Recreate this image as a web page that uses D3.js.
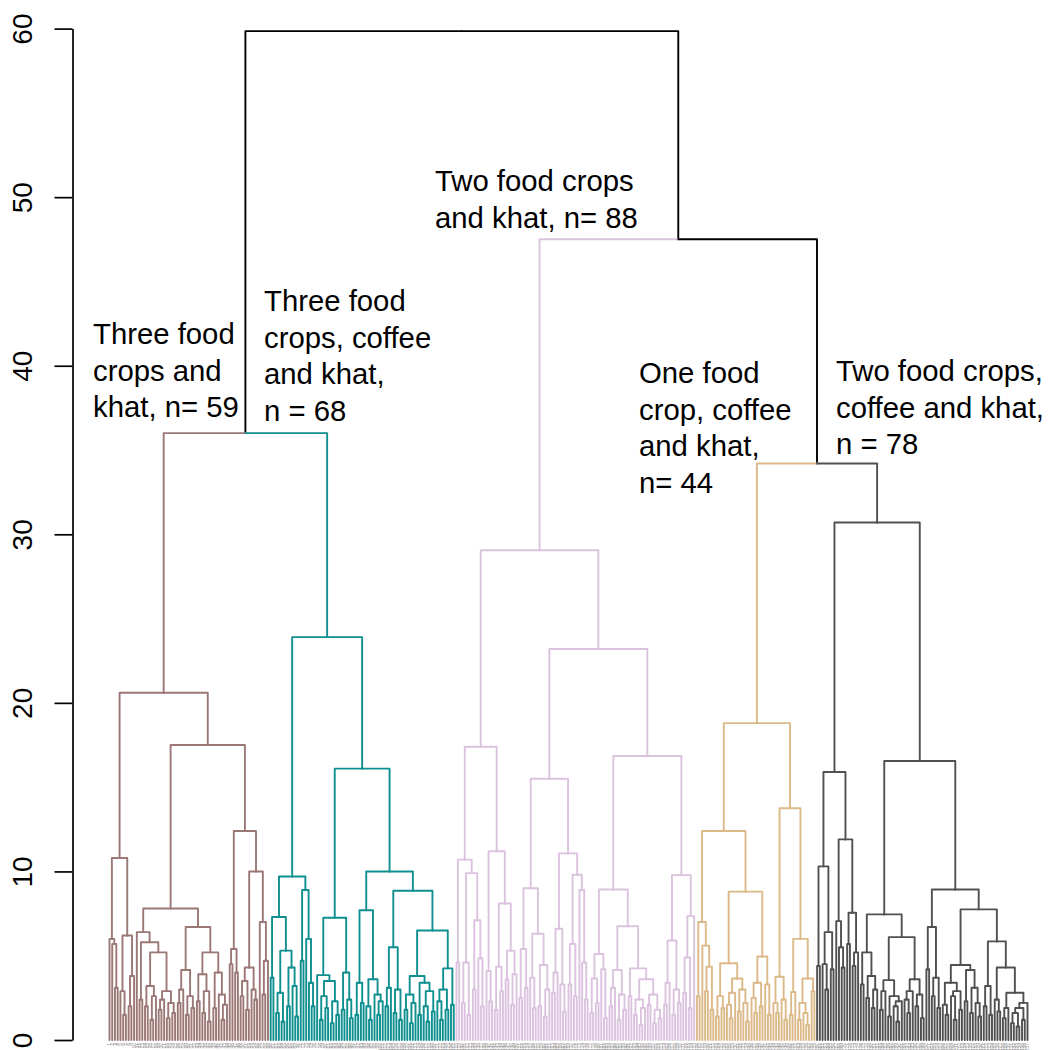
<!DOCTYPE html>
<html>
<head>
<meta charset="utf-8">
<script src="https://cdn.jsdelivr.net/npm/d3@7"></script>
<style>
  html, body { margin: 0; padding: 0; background: #fff; }
  svg { display: block; font-family: "Liberation Sans", Arial, Helvetica, sans-serif; }
</style>
</head>
<body>
<svg id="chart" width="1051" height="1050"></svg>
<script>
// Each cluster is stored as the merge height between every pair of neighbouring
// leaves (left to right). The tree is rebuilt by splitting at the largest gap.
const brownGaps = [
  6.0, 5.7, 3.1, 10.8, 2.9, 1.5, 6.2, 2.0, 3.8,
  20.6,
  6.4, 2.4, 5.8, 2.0, 3.2, 1.2, 2.6, 5.2, 1.8, 2.4, 2.9, 1.3, 2.2, 1.6,
  7.8,
  2.2, 3.0, 4.15, 1.5, 2.6, 1.9, 6.7, 2.3, 3.9, 1.6, 2.9, 1.1, 5.2, 1.9, 4.0, 2.7, 1.2, 2.1,
  17.5,
  4.5, 5.4, 4.0, 12.4, 2.6, 3.5, 1.8, 4.3, 3.0, 2.4, 10.0, 7.0, 2.7, 4.7
];
const tealGaps = [
  3.7, 7.3, 1.6, 2.8, 1.1, 5.3, 2.0, 4.3, 3.2, 1.4,
  9.7,
  4.7, 8.9, 6.0, 3.4, 2.0,
  23.9,
  3.85, 1.2, 2.6, 1.9, 3.5, 1.0, 2.3, 1.5, 7.25, 1.8, 4.0, 2.4, 1.3,
  16.1,
  1.5, 3.4, 2.2, 7.7, 2.0, 1.2, 3.6, 2.7, 1.5, 2.3,
  10.0,
  2.0, 3.1, 5.5, 1.6, 3.0, 1.2, 8.85,
  1.8, 2.7, 1.0, 2.2, 3.8, 1.5, 3.4, 2.0, 1.1, 2.9, 1.7, 6.5,
  2.3, 1.2, 3.0, 1.8, 4.25, 2.1
];
const pinkGaps = [
  4.6, 10.7, 2.2, 4.6, 1.5, 9.9, 3.0, 7.1, 4.85, 2.0,
  17.4,
  4.1, 2.3, 11.2, 1.8, 4.35, 2.9, 8.1, 3.6, 5.3, 2.1, 3.9,
  29.05,
  2.5, 5.4, 3.1, 9.0, 3.7, 1.9, 6.3, 2.0, 4.45, 1.4, 3.0,
  15.5,
  2.8, 4.0, 6.6, 3.3, 1.7, 11.07, 3.3, 5.7, 2.6, 9.8, 8.9, 4.6, 2.4,
  23.2,
  1.6, 3.65, 2.2, 5.1, 4.2, 1.3, 8.93,
  2.0, 3.1, 4.15, 1.2, 2.7, 1.8, 6.75,
  2.6, 4.25, 1.5, 2.4, 0.9, 1.9, 3.6, 2.1, 2.7, 1.0, 1.8, 1.3,
  16.85,
  2.1, 3.4, 5.9, 1.5, 3.0, 2.2, 9.78, 2.8, 4.9, 1.9, 7.35
];
const tanGaps = [
  2.6, 7.0, 5.6, 2.9, 4.35, 1.8,
  12.4,
  1.4, 2.6, 1.9, 4.55, 2.1, 1.3, 2.8, 3.65, 1.7, 3.0, 2.2, 1.1,
  8.8,
  2.5, 1.6, 3.4, 2.0, 4.95, 3.3, 1.5,
  18.8,
  2.2, 1.6, 3.75, 2.4, 1.2,
  13.75,
  1.5, 2.85, 6.0, 1.2, 2.2, 1.6, 0.9, 3.65, 2.9
];
const greyGaps = [
  4.4, 10.3, 4.5, 3.0, 6.4, 4.2,
  15.9,
  7.05, 5.5, 4.3, 11.9, 5.7, 7.55, 4.4, 5.2,
  30.7,
  3.3, 5.2, 2.5, 3.8, 1.9, 3.0, 7.45,
  1.8, 2.9, 3.55, 1.4, 2.6, 2.0, 1.1, 2.3, 6.1, 2.4, 1.6, 2.9, 3.6, 2.0, 2.7, 1.3,
  16.55,
  4.2, 6.7, 2.6, 3.7, 1.9, 8.93,
  2.1, 1.5, 3.4, 2.6, 1.2, 2.9, 1.8, 4.45, 2.3, 4.15, 1.6, 3.1, 2.2, 1.4,
  7.75,
  2.0, 3.2, 1.5, 5.85, 2.4, 1.7, 4.3, 1.3, 1.9, 2.8, 1.0, 1.6, 0.8, 1.9, 1.2, 2.2
];

// Heights where neighbouring clusters meet: brown|teal, teal|pink, pink|tan, tan|grey
const clusterJoins = [36.0, 59.85, 47.5, 34.2];
const clusterSizes = [59, 68, 88, 44, 78];
const clusterLabels = [
  ["Three food", "crops and", "khat, n= 59"],
  ["Three food", "crops, coffee", "and khat,", "n = 68"],
  ["Two food crops", "and khat, n= 88"],
  ["One food", "crop, coffee", "and khat,", "n= 44"],
  ["Two food crops,", "coffee and khat,", "n = 78"]
];
const yTicks = [0, 10, 20, 30, 40, 50, 60];

// ---- styling / layout ----
const clusterColors = ["#9b7876", "#0f8f8f", "#dbc2de", "#dcb988", "#505050"];
const labelAnchors = [[93, 344], [264, 311], [435, 191], [639, 383], [836, 381]];
const lineGap = 36.6;

const gaps = [];
[brownGaps, tealGaps, pinkGaps, tanGaps, greyGaps].forEach((g, i) => {
  gaps.push(...g);
  if (i < clusterJoins.length) gaps.push(clusterJoins[i]);
});
const nLeaves = gaps.length + 1;

const clusterStart = d3.cumsum([0, ...clusterSizes]);
const clusterOf = leaf => d3.bisectRight(clusterStart, leaf) - 1;

function build(lo, hi) {
  if (lo === hi) return { leaf: lo, h: 0 };
  let k = lo;
  for (let i = lo + 1; i < hi; i++) if (gaps[i] > gaps[k]) k = i;
  return { h: gaps[k], children: [build(lo, k), build(k + 1, hi)] };
}

const root = d3.hierarchy(build(0, nLeaves - 1));

const x = d3.scalePoint().domain(d3.range(nLeaves)).range([109.5, 1027.5]);
const y = d3.scaleLinear().domain([0, 60]).range([1040, 28.6]);

root.eachAfter(n => {
  if (!n.children) {
    n.px = x(n.data.leaf);
    n.cl = clusterOf(n.data.leaf);
  } else {
    n.px = d3.mean(n.children, c => c.px);
    const a = n.children[0].cl, b = n.children[1].cl;
    n.cl = (a === b) ? a : -1;
  }
});

const svg = d3.select("#chart");

// leaf labels
svg.append("g")
  .attr("fill", "#9a9a9a")
  .attr("font-size", 5)
  .attr("text-anchor", "end")
  .selectAll("text")
  .data(root.leaves())
  .join("text")
  .attr("transform", n => `translate(${n.px + 1.7},${y(0) + 3}) rotate(-90)`)
  .text(n => String(n.data.leaf + 1));

// branches: horizontal at the parent's height, then down to the child
const links = root.descendants().filter(n => n.parent);
svg.append("g")
  .attr("fill", "none")
  .attr("stroke-width", 1.9)
  .attr("stroke-linecap", "round")
  .attr("stroke-linejoin", "round")
  .selectAll("path")
  .data(links)
  .join("path")
  .attr("stroke", n => n.cl < 0 ? "#000" : clusterColors[n.cl])
  .attr("d", n => {
    const p = d3.path();
    p.moveTo(n.parent.px, y(n.parent.data.h));
    p.lineTo(n.px, y(n.parent.data.h));
    p.lineTo(n.px, y(n.data.h));
    return p.toString();
  });

// y axis
const axis = svg.append("g")
  .attr("transform", "translate(72.5,0)")
  .call(d3.axisLeft(y).tickValues(yTicks).tickSize(18).tickSizeOuter(0).tickFormat(d3.format("d")));
axis.select(".domain").attr("stroke", "#000").attr("stroke-width", 1.7);
axis.selectAll(".tick line").attr("stroke", "#000").attr("stroke-width", 1.7);
axis.selectAll(".tick text")
  .attr("font-size", 28)
  .attr("font-family", "'Liberation Sans', Arial, sans-serif")
  .attr("fill", "#000")
  .attr("text-anchor", "middle")
  .attr("x", 0).attr("y", 0).attr("dy", "0.36em")
  .attr("transform", "translate(-51,0) rotate(-90)");

// cluster annotations
clusterLabels.forEach((lines, i) => {
  const [lx, ly] = labelAnchors[i];
  const t = svg.append("text")
    .attr("x", lx).attr("y", ly)
    .attr("font-size", 29.3)
    .attr("fill", "#000");
  lines.forEach((s, j) => t.append("tspan").attr("x", lx).attr("y", ly + j * lineGap).text(s));
});
</script>
</body>
</html>
